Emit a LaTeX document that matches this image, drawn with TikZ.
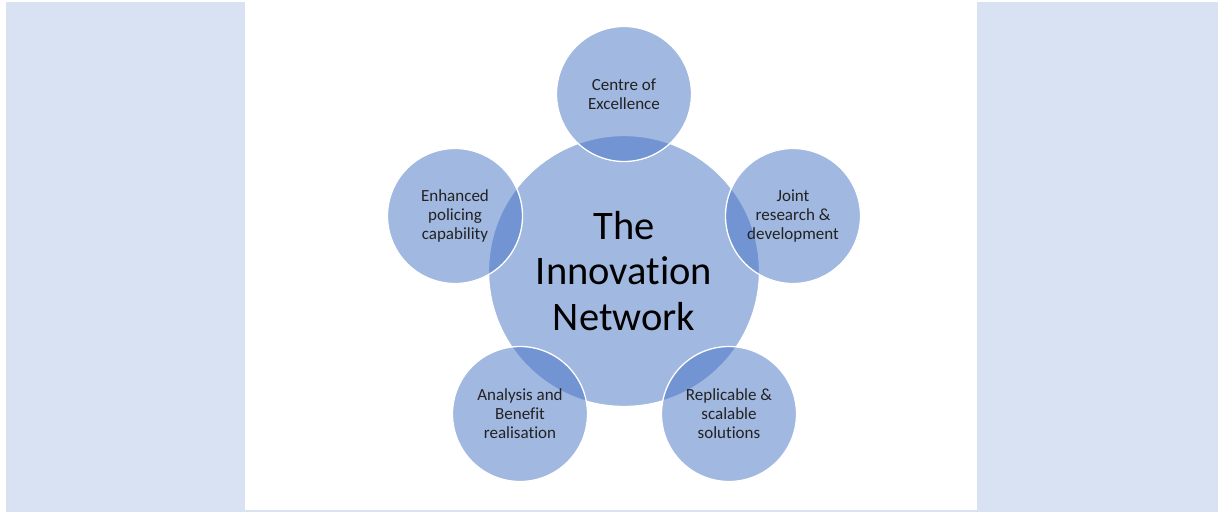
\documentclass[tikz,border=0pt]{standalone}
\usepackage{fontspec}
\setmainfont{Carlito}[Ligatures=NoCommon]
\begin{document}
\begin{tikzpicture}[x=1pt,y=-1pt,
  panel/.style={fill=sidepanel,draw=none},
  hub/.style={circle,minimum size=271pt,inner sep=0pt,fill=netblue,fill opacity=0.5,
    draw=white,line width=1.3pt,text opacity=1,text=black,align=center,
    font=\fontsize{40.5}{45.8}\selectfont},
  spoke/.style={circle,minimum size=135pt,inner sep=0pt,fill=netblue,fill opacity=0.5,
    draw=white,line width=1.3pt,text opacity=1,text=textgray,align=center,
    font=\fontsize{17}{19}\selectfont}]
\definecolor{sidepanel}{HTML}{D9E2F3}
\definecolor{netblue}{HTML}{4472C4}
\definecolor{textgray}{HTML}{222222}
\useasboundingbox (0,0) rectangle (1225,512);
\fill[white] (0,0) rectangle (1225,512);
% side panels and the bottom strip
\path[panel] (6,2) rectangle (245,510);
\path[panel] (977,2) rectangle (1218,510);
\path[panel] (6,510) rectangle (1218,512);
% hub and its five satellites
\node[hub] (hub) at (624,271) {The\\Innovation\\Network};
\node[spoke] (coe) at (624,94) {Centre of\\Excellence};
\node[spoke] (jrd) at (793,216) {Joint\\research \&\\development};
\node[spoke] (rss) at (729,414) {Replicable \&\\scalable\\solutions};
\node[spoke] (abr) at (520,414) {Analysis and\\Benefit\\realisation};
\node[spoke] (epc) at (455,216) {Enhanced\\policing\\capability};
\end{tikzpicture}
\end{document}
